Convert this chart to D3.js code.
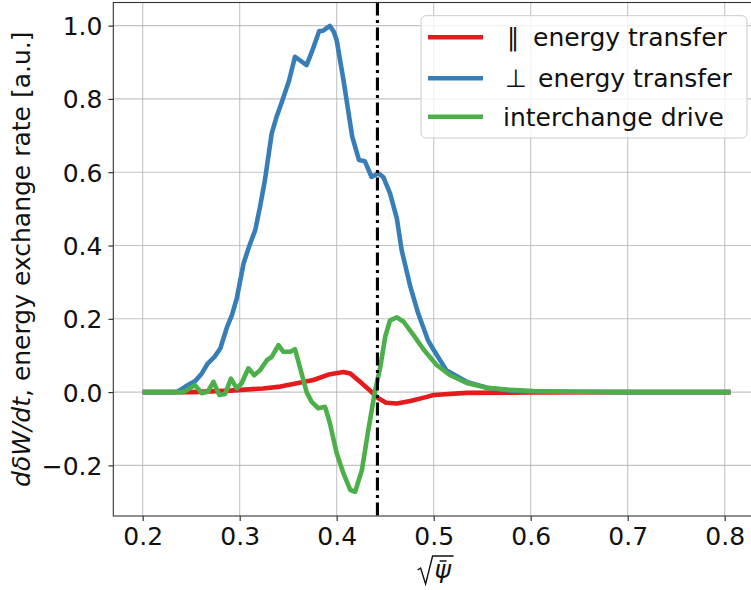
<!DOCTYPE html>
<html><head><meta charset="utf-8">
<script src="https://cdn.jsdelivr.net/npm/d3@7"></script>
<style>
body{margin:0;background:#fff;}
svg{display:block;font-family:"DejaVu Sans",sans-serif;}
</style></head>
<body><svg id="c" width="751" height="590"></svg>
<script>
// ---- data ----
const xTicks = [0.2,0.3,0.4,0.5,0.6,0.7,0.8];
const yTicks = [-0.2,0.0,0.2,0.4,0.6,0.8,1.0];
const seriesNames = ["\u2225 energy transfer","\u22A5 energy transfer","interchange drive"];
const seriesColors = ["#e41a1c","#377eb8","#4daf4a"];
const separatrixX = 0.442;

const parX = [0.200,0.250,0.290,0.324,0.342,0.359,0.376,0.393,0.407,0.414,0.424,0.434,0.443,0.451,0.462,0.476,0.493,0.500,0.534,0.600,0.700,0.806];
const parY = [0,0,0.004,0.010,0.015,0.024,0.033,0.049,0.055,0.051,0.028,0.005,-0.017,-0.029,-0.031,-0.024,-0.013,-0.008,-0.002,-0.001,0,0];

const perpX = [0.200,0.235,0.244,0.254,0.261,0.267,0.274,0.280,0.287,0.292,0.297,0.304,0.309,0.316,0.321,0.326,0.333,0.338,0.343,0.351,0.357,0.369,0.375,0.382,0.386,0.393,0.397,0.400,0.407,0.416,0.423,0.429,0.436,0.443,0.448,0.455,0.462,0.467,0.476,0.484,0.494,0.500,0.513,0.534,0.555,0.579,0.603,0.650,0.700,0.750,0.806];
const perpY = [0,0,0.015,0.030,0.051,0.078,0.096,0.119,0.178,0.210,0.256,0.351,0.392,0.442,0.506,0.578,0.706,0.751,0.788,0.851,0.915,0.892,0.933,0.985,0.986,0.999,0.983,0.960,0.851,0.697,0.633,0.630,0.587,0.597,0.587,0.542,0.474,0.387,0.287,0.215,0.142,0.115,0.060,0.028,0.012,0.004,0.001,0.001,0,0,0];

const intX = [0.200,0.242,0.254,0.261,0.267,0.273,0.279,0.285,0.291,0.297,0.302,0.309,0.315,0.321,0.328,0.333,0.340,0.345,0.352,0.357,0.362,0.369,0.374,0.381,0.388,0.393,0.400,0.407,0.414,0.419,0.426,0.432,0.439,0.445,0.450,0.455,0.462,0.469,0.479,0.490,0.503,0.517,0.534,0.555,0.579,0.603,0.650,0.700,0.750,0.806];
const intY = [0,0,0.019,-0.003,0.001,0.028,-0.008,-0.005,0.037,0.010,0.024,0.065,0.046,0.060,0.087,0.096,0.128,0.110,0.110,0.117,0.069,0.000,-0.026,-0.044,-0.040,-0.085,-0.167,-0.222,-0.267,-0.272,-0.213,-0.113,-0.004,0.069,0.151,0.196,0.204,0.192,0.156,0.115,0.074,0.046,0.025,0.012,0.006,0.003,0.001,0,0,0];

const series = [
  {name: seriesNames[0], color: seriesColors[0], xs: parX, ys: parY},
  {name: seriesNames[1], color: seriesColors[1], xs: perpX, ys: perpY},
  {name: seriesNames[2], color: seriesColors[2], xs: intX, ys: intY}
];

// ---- layout ----
const L = 113.3, R = 759.9, T = 2.5, B = 516;
const x = d3.scaleLinear().domain([0.1697, 0.8363]).range([L, R]);
const y = d3.scaleLinear().domain([-0.338, 1.063]).range([B, T]);
const svg = d3.select("#c");
const FS = 25;

// grid
const g = svg.append("g");
g.selectAll(".gx").data(xTicks).join("line")
  .attr("x1", d=>x(d)).attr("x2", d=>x(d)).attr("y1", T).attr("y2", B)
  .attr("stroke", "#b0b0b0").attr("stroke-opacity", 0.75).attr("stroke-width", 1.1);
g.selectAll(".gy").data(yTicks).join("line")
  .attr("x1", L).attr("x2", R).attr("y1", d=>y(d)).attr("y2", d=>y(d))
  .attr("stroke", "#b0b0b0").attr("stroke-opacity", 0.75).attr("stroke-width", 1.1);

// axes
const fmt = d3.format(".1f");
const xa = svg.append("g").attr("transform", `translate(0,${B})`)
  .call(d3.axisBottom(x).tickValues(xTicks).tickFormat(fmt).tickSize(4.9).tickPadding(6));
const ya = svg.append("g").attr("transform", `translate(${L},0)`)
  .call(d3.axisLeft(y).tickValues(yTicks).tickFormat(fmt).tickSize(4.9).tickPadding(6));
[xa, ya].forEach(a => {
  a.select(".domain").remove();
  a.selectAll("line").attr("stroke", "#222").attr("stroke-width", 1.1);
  a.selectAll("text").attr("font-size", FS).attr("font-family", "DejaVu Sans").attr("fill", "#111");
});
xa.selectAll("text").attr("dy", "0.74em");
ya.selectAll("text").attr("dy", "0.36em");

// curves
const line = d3.line().x(d=>x(d[0])).y(d=>y(d[1]));
series.forEach(s => {
  svg.append("path").datum(s.xs.map((v,i)=>[v, s.ys[i]]))
    .attr("d", line).attr("fill", "none").attr("stroke", s.color)
    .attr("stroke-width", 4.6).attr("stroke-linejoin", "round").attr("stroke-linecap", "butt");
});

// separatrix line
svg.append("line").attr("x1", x(separatrixX)).attr("x2", x(separatrixX)).attr("y1", T).attr("y2", B)
  .attr("stroke", "#000").attr("stroke-width", 3.1).attr("stroke-dasharray", "13,4.5,3,4.5");

// frame
svg.append("rect").attr("x", L).attr("y", T).attr("width", R-L).attr("height", B-T)
  .attr("fill", "none").attr("stroke", "#333").attr("stroke-width", 1.1);

// x label: sqrt(psi-bar)
const xl = svg.append("g");
const cx = (L + R) / 2 - 3, by = 578;
xl.append("path")
  .attr("d", `M${cx-16},${by-8} L${cx-13},${by-10} L${cx-8},${by+6} L${cx-1},${by-22} L${cx+20},${by-22}`)
  .attr("fill", "none").attr("stroke", "#111").attr("stroke-width", 1.4);
xl.append("text").attr("x", cx+1).attr("y", by).attr("font-size", FS).attr("font-style", "italic")
  .attr("font-family", "DejaVu Sans").attr("fill", "#111").text("\u03C8");
xl.append("line").attr("x1", cx+6).attr("x2", cx+13).attr("y1", by-17).attr("y2", by-17)
  .attr("stroke", "#111").attr("stroke-width", 1.5);

// y label
const ylab = svg.append("text")
  .attr("transform", `translate(30,${(T+B)/2}) rotate(-90)`)
  .attr("text-anchor", "middle").attr("font-size", FS).attr("font-family", "DejaVu Sans").attr("fill", "#111");
ylab.append("tspan").attr("font-style", "italic").text("d\u03B4W/dt");
ylab.append("tspan").text(", energy exchange rate [a.u.]");

// legend
const lg = svg.append("g");
lg.append("rect").attr("x", 421).attr("y", 15.7).attr("width", 326).attr("height", 122.3)
  .attr("rx", 5).attr("fill", "#fff").attr("fill-opacity", 0.8)
  .attr("stroke", "#cccccc").attr("stroke-width", 1);
const rowsY = [37.3, 78.3, 116.7];
series.forEach((s, i) => {
  lg.append("line").attr("x1", 428).attr("x2", 483).attr("y1", rowsY[i]).attr("y2", rowsY[i])
    .attr("stroke", s.color).attr("stroke-width", 4.6);
});
const lt = (xp, yp, t) => lg.append("text").attr("x", xp).attr("y", yp).attr("dy", "0.36em")
  .attr("font-size", FS).attr("font-family", "DejaVu Sans").attr("fill", "#111").text(t);
lt(507, rowsY[0], seriesNames[0].slice(0,1));
lt(533, rowsY[0], seriesNames[0].slice(2));
lt(505, rowsY[1], seriesNames[1].slice(0,1));
lt(538, rowsY[1], seriesNames[1].slice(2));
lt(503, rowsY[2], seriesNames[2]);
</script></body></html>
